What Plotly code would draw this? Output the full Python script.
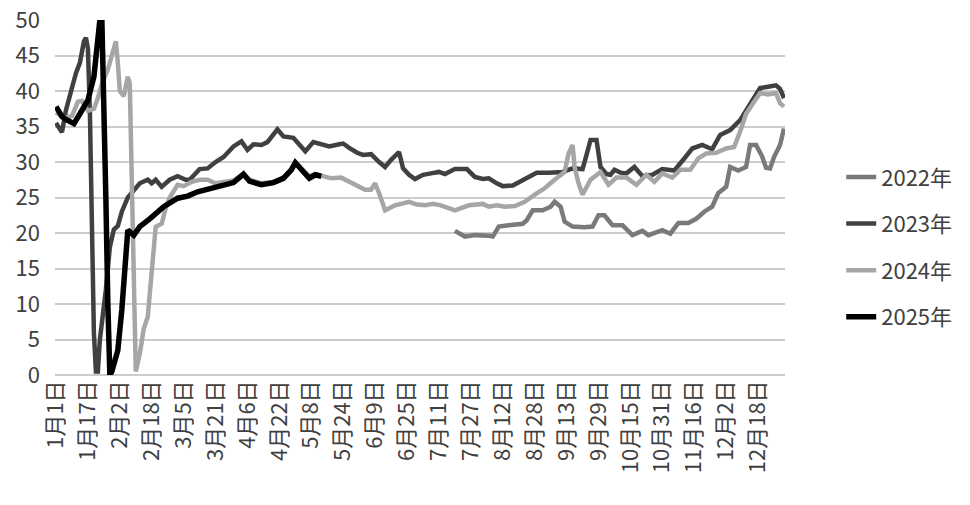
import datetime
import plotly.graph_objects as go

# Day-of-year categories (leap-year calendar, 366 days)
_start = datetime.date(2024, 1, 1)
categories = [f"{(_start + datetime.timedelta(days=k)).month}月{(_start + datetime.timedelta(days=k)).day}日" for k in range(366)]
tick_labels = categories[::16]

series_names = ["2022年", "2023年", "2024年", "2025年"]

# (day index, value) samples
days_2022 = [200, 205, 210, 214, 217, 219, 222, 227, 234, 236, 239, 244, 248, 250, 253, 255, 259, 265, 269, 272,
             275, 279, 284, 289, 294, 297, 304, 308, 312, 317, 321, 325, 329, 332, 336, 338, 342, 346, 348, 351,
             354, 356, 358, 360, 363, 365]
vals_2022 = [20.3, 19.5, 19.7, 19.7, 19.6, 19.5, 20.9, 21.1, 21.3, 21.8, 23.2, 23.2, 23.7, 24.4, 23.7, 21.6, 20.9, 20.8, 20.9, 22.5,
             22.5, 21.1, 21.1, 19.7, 20.3, 19.7, 20.4, 19.9, 21.4, 21.4, 22.0, 23.0, 23.7, 25.6, 26.5, 29.3, 28.8, 29.3, 32.4, 32.4,
             30.8, 29.2, 29.1, 30.7, 32.4, 34.7]

days_2023 = [0, 3, 5, 7, 8, 10, 12, 14, 15, 16, 17, 18, 19, 20, 21, 22, 25, 27, 29, 31,
             33, 36, 39, 42, 46, 48, 50, 53, 57, 61, 65, 67, 72, 76, 80, 84, 89, 93, 96, 99,
             103, 106, 111, 114, 119, 122, 125, 129, 133, 137, 142, 144, 147, 151, 154, 158, 162, 165, 168, 172,
             174, 177, 180, 184, 188, 192, 195, 200, 206, 210, 214, 217, 221, 224, 229, 234, 237, 241, 247, 254,
             259, 264, 266, 268, 271, 272, 273, 276, 278, 280, 283, 286, 290, 294, 299, 304, 310, 315, 319, 324,
             329, 333, 338, 343, 346, 350, 353, 357, 361, 363, 365]
vals_2023 = [35.5, 34.2, 37.3, 39.5, 40.0, 42.5, 44.0, 47.0, 47.5, 46.0, 37.0, 20.0, 6.0, 0.5, 0.5, 5.0, 12.0, 18.0, 20.5, 21.0,
             23.0, 25.0, 26.0, 27.0, 27.5, 27.0, 27.5, 26.5, 27.5, 28.0, 27.5, 27.5, 29.0, 29.1, 30.0, 30.7, 32.2, 32.9, 31.7, 32.5,
             32.4, 32.8, 34.6, 33.6, 33.4, 32.5, 31.5, 32.8, 32.5, 32.2, 32.5, 32.6, 32.0, 31.3, 31.0, 31.1, 30.0, 29.3, 30.3, 31.4,
             29.1, 28.2, 27.6, 28.2, 28.4, 28.6, 28.3, 29.0, 29.0, 27.9, 27.6, 27.7, 27.0, 26.6, 26.7, 27.5, 28.0, 28.5, 28.5, 28.6,
             29.1, 29.0, 31.0, 33.1, 33.1, 31.0, 29.3, 28.3, 28.2, 28.9, 28.5, 28.4, 29.3, 28.0, 28.2, 29.0, 28.8, 30.5, 31.9, 32.4,
             31.8, 33.8, 34.5, 35.9, 37.3, 39.0, 40.4, 40.6, 40.8, 40.3, 39.0]

days_2024 = [0, 4, 8, 11, 13, 16, 19, 21, 23, 26, 28, 30, 31, 32, 34, 36, 37, 38, 39, 40,
             42, 44, 46, 48, 50, 53, 55, 57, 61, 64, 68, 72, 76, 80, 84, 89, 94, 97, 103, 109,
             114, 118, 120, 124, 127, 130, 134, 138, 143, 150, 155, 158, 160, 162, 165, 170, 177, 181, 185, 189,
             193, 200, 207, 214, 217, 221, 225, 230, 235, 240, 245, 250, 255, 257, 259, 260, 262, 264, 268, 273,
             277, 281, 286, 291, 296, 300, 304, 309, 313, 318, 322, 326, 331, 336, 340, 343, 346, 350, 353, 357,
             361, 363, 365]
vals_2024 = [37.0, 36.2, 36.5, 38.5, 38.6, 37.2, 37.5, 39.0, 41.0, 43.0, 45.0, 47.0, 44.0, 40.0, 39.3, 42.0, 41.0, 28.0, 12.0, 0.5,
             3.0, 6.5, 8.2, 14.0, 20.9, 21.3, 23.5, 25.0, 26.8, 26.6, 27.2, 27.5, 27.5, 27.0, 27.2, 27.4, 28.3, 27.5, 27.0, 27.2,
             27.8, 28.9, 29.8, 28.8, 28.0, 28.3, 28.0, 27.7, 27.8, 26.8, 26.1, 26.1, 27.0, 25.6, 23.2, 23.9, 24.4, 24.0, 23.9, 24.1,
             23.9, 23.2, 23.9, 24.1, 23.7, 23.9, 23.7, 23.8, 24.4, 25.4, 26.3, 27.5, 28.6, 31.2, 32.4, 29.3, 27.0, 25.4, 27.5, 28.6,
             26.8, 27.8, 27.8, 26.8, 28.2, 27.2, 28.4, 27.8, 28.9, 28.9, 30.5, 31.2, 31.3, 31.9, 32.1, 34.3, 36.8, 38.5, 39.7, 39.5,
             39.7, 38.3, 37.8]

days_2025 = [0, 3, 5, 9, 12, 16, 19, 21, 22, 23, 24, 25, 26, 27, 28, 31, 33, 36, 39, 42,
             47, 54, 61, 66, 71, 75, 78, 84, 89, 94, 97, 103, 109, 114, 118, 120, 124, 127, 130, 133]
vals_2025 = [37.8, 36.4, 36.0, 35.4, 36.8, 38.7, 42.0, 47.6, 50.0, 50.0, 40.0, 25.0, 10.0, 0.0, 0.5, 3.5, 9.2, 20.4, 19.7, 20.9,
             22.0, 23.7, 24.9, 25.2, 25.8, 26.1, 26.2, 26.8, 27.1, 28.3, 27.3, 26.8, 27.1, 27.7, 28.9, 29.9, 28.7, 27.7, 28.2, 28.0]

series_days = [days_2022, days_2023, days_2024, days_2025]
series_vals = [vals_2022, vals_2023, vals_2024, vals_2025]
colors = ["#7a7a7a", "#404040", "#a6a6a6", "#000000"]
widths = [4.5, 4.5, 4.5, 5.5]

FONT = "Noto Sans CJK SC"
TEXT = "#404040"

fig = go.Figure()
for name, d, v, c, w in zip(series_names, series_days, series_vals, colors, widths):
    fig.add_trace(go.Scatter(
        x=[categories[k] for k in d], y=v, name=name, mode="lines",
        line=dict(color=c, width=w), legendgroup=name,
    ))

fig.update_layout(
    width=970, height=505,
    margin=dict(l=55, r=185, t=20, b=130, autoexpand=False),
    paper_bgcolor="white", plot_bgcolor="white",
    font=dict(family=FONT, size=22, color=TEXT),
    showlegend=True,
    legend=dict(x=1.077, xanchor="left", y=0.36, yanchor="middle",
                traceorder="grouped", tracegroupgap=15,
                font=dict(family=FONT, size=22, color=TEXT),
                bgcolor="rgba(0,0,0,0)"),
)
fig.update_xaxes(
    type="category", categoryorder="array", categoryarray=categories,
    range=[-0.5, 365.5], tickmode="array", tickvals=tick_labels, ticktext=tick_labels,
    tickangle=-90, showgrid=False, showline=False, ticks="", zeroline=False,
    automargin=False,
    tickfont=dict(family=FONT, size=22, color=TEXT),
)
fig.update_yaxes(
    range=[0, 50], dtick=5, showgrid=True, gridcolor="#cccccc", gridwidth=1.6,
    zeroline=True, zerolinecolor="#cccccc", zerolinewidth=1.6, showline=False, ticks="",
    ticklabelstandoff=14, automargin=False, ticklabeloverflow="allow",
    tickfont=dict(family=FONT, size=22, color=TEXT),
)

fig.write_html("out.html", config={"displayModeBar": False},
               post_script="document.body.style.margin='0px';")
